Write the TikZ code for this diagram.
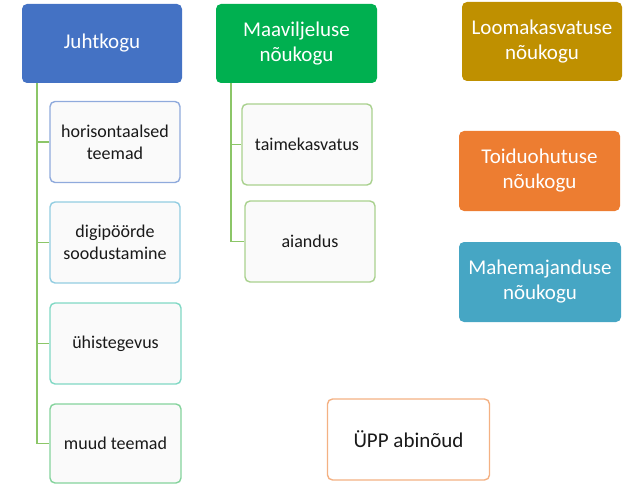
\documentclass[tikz,border=0pt]{standalone}
\usepackage{fontspec}
\setmainfont{Carlito}
\usepackage{xcolor}
\usepackage{tikz}
\usetikzlibrary{positioning,calc}
\definecolor{juhtcolor}{RGB}{68,114,196}
\definecolor{maacolor}{RGB}{0,176,80}
\definecolor{loomacolor}{RGB}{191,144,0}
\definecolor{toitcolor}{RGB}{237,125,49}
\definecolor{mahecolor}{RGB}{70,166,196}
\definecolor{linecolor}{RGB}{140,198,104}
\definecolor{subfill}{RGB}{250,250,250}

\begin{document}
\begin{tikzpicture}[x=1pt, y=-1pt,
    head/.style={rounded corners=5pt, minimum width=160pt, minimum height=79pt, text=white, align=center, font=\fontsize{21}{25}\selectfont},
    topic/.style={rounded corners=5pt, draw, line width=1.4pt, fill=subfill, minimum width=130pt, minimum height=81pt, align=center, text=black!90, font=\fontsize{18}{22}\selectfont},
    branch/.style={linecolor, line width=1.4pt}]
    \useasboundingbox (0,0) rectangle (629,484);

    % Councils
    \node [head, fill=juhtcolor] (juht) at (102, 43.5) {Juhtkogu};
    \node [head, fill=maacolor, minimum width=161pt] (maa) at (296.5, 43.5) {Maaviljeluse\\nõukogu};
    \node [head, fill=loomacolor] (looma) at (542, 41.5) {Loomakasvatuse\\nõukogu};
    \node [head, fill=toitcolor, minimum width=161pt, minimum height=80pt] (toit) at (539.5, 171) {Toiduohutuse\\nõukogu};
    \node [head, fill=mahecolor, minimum width=162pt, minimum height=80pt] (mahe) at (540, 282) {Mahemajanduse\\nõukogu};

    % Juhtkogu topics
    \node [topic, draw={rgb,255:red,143;green,170;blue,220}] (horis) at (115, 142) {horisontaalsed\\teemad};
    \node [topic, draw={rgb,255:red,146;green,205;blue,225}] (digi) at (115, 242.5) {digipöörde\\soodustamine};
    \node [topic, draw={rgb,255:red,128;green,216;blue,196}, minimum width=131pt] (uhis) at (115.5, 343.5) {ühistegevus};
    \node [topic, draw={rgb,255:red,132;green,211;blue,156}, minimum width=131pt, minimum height=79pt] (muud) at (115.5, 443.5) {muud teemad};

    % Maaviljeluse topics
    \node [topic, draw={rgb,255:red,169;green,209;blue,142}] (taime) at (307, 144.5) {taimekasvatus};
    \node [topic, draw={rgb,255:red,169;green,209;blue,142}] (aiandus) at (310, 241.5) {aiandus};

    % UPP
    \node [topic, draw={rgb,255:red,244;green,177;blue,131}, fill=white, minimum width=162pt, font=\fontsize{21}{25}\selectfont] (upp) at (408.5, 439.5) {ÜPP abinõud};

    % Branches
    \coordinate (jtop) at (juht.south -| 37,0);
    \coordinate (mtop) at (maa.south -| 231,0);
    \draw [branch] (jtop) |- (horis.west);
    \draw [branch] (jtop) |- (digi.west);
    \draw [branch] (jtop) |- (uhis.west);
    \draw [branch] (jtop) |- (muud.west);
    \draw [branch] (mtop) |- (taime.west);
    \draw [branch] (mtop) |- (aiandus.west);

\end{tikzpicture}
\end{document}
